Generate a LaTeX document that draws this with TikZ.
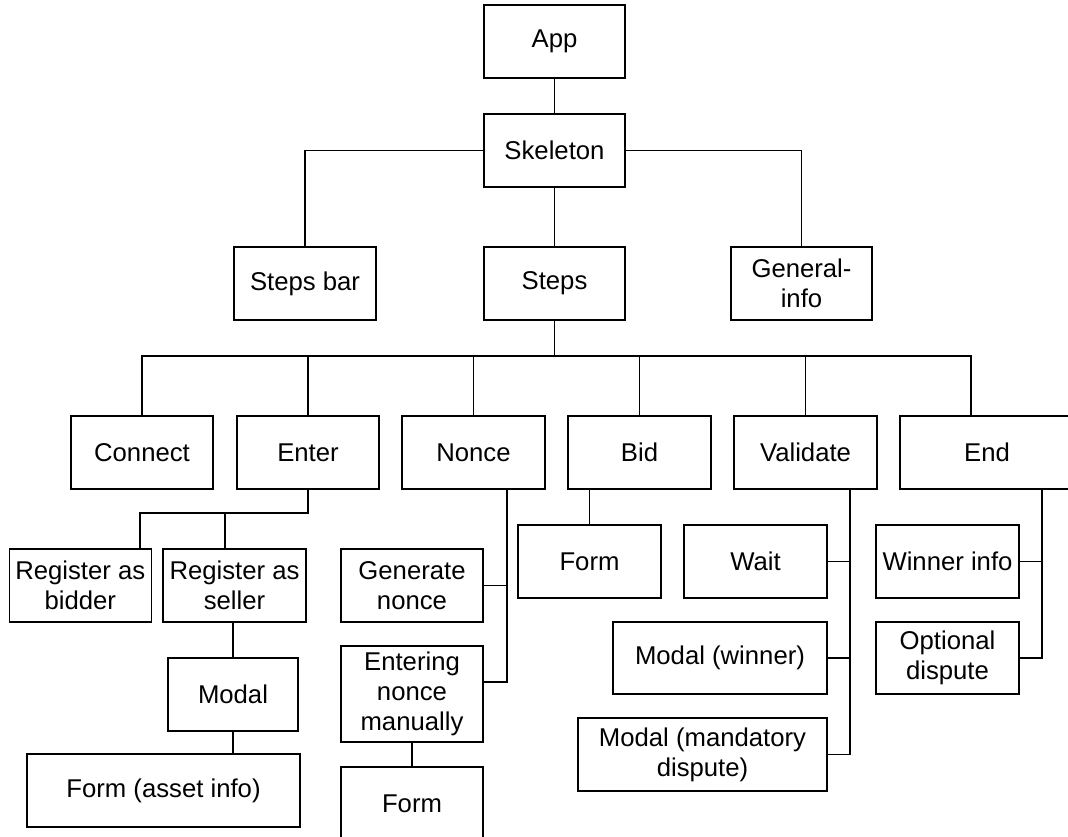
\documentclass[tikz,border=0pt]{standalone}
\usepackage{fontspec}
\setmainfont{Liberation Sans}
\begin{document}
\begin{tikzpicture}[x=1pt,y=-1pt,
  box/.style={draw, line width=1.1pt, fill=white, inner sep=0pt, align=center,
    minimum width=142pt, minimum height=73pt,
    font=\fontsize{25.7}{30}\selectfont},
  link/.style={line width=1.1pt}]
\clip (0,0) rectangle (1068,837);

% top levels
\node[box, minimum width=141pt] (app)  at (554.5,41.5)  {App};
\node[box, minimum width=141pt] (skel) at (554.5,150.5) {Skeleton};
\node[box] (stepsbar) at (305,283.5)   {Steps bar};
\node[box, minimum width=141pt] (steps) at (554.5,283.5) {Steps};
\node[box, minimum width=141pt] (geninfo) at (801.5,283.5) {General-\\info};

% step pages
\node[box] (connect)  at (142,452.5)   {Connect};
\node[box] (enter)    at (308,452.5)   {Enter};
\node[box, minimum width=143pt] (nonce) at (473.5,452.5) {Nonce};
\node[box, minimum width=143pt] (bid)   at (639.5,452.5) {Bid};
\node[box, minimum width=143pt] (validate) at (805.5,452.5) {Validate};
\node[box, minimum width=174pt] (end) at (987,452.5) {End};

% enter
\node[box, minimum width=142.5pt] (regbid) at (80.3,585.5) {Register as\\bidder};
\node[box, minimum width=143pt] (regsell) at (234.5,585.5) {Register as\\seller};
\node[box, minimum width=130pt] (modal) at (233,694.5) {Modal};
\node[box, minimum width=273pt] (formasset) at (163.5,790.5) {Form (asset info)};

% nonce
\node[box] (gennonce) at (412,585.5) {Generate\\nonce};
\node[box, minimum height=96pt] (entering) at (412,694) {Entering\\nonce\\manually};
\node[box] (formn) at (412,803.5) {Form};

% bid
\node[box, minimum width=143pt] (bidform) at (589.5,561.5) {Form};

% validate
\node[box, minimum width=143pt] (wait) at (755.5,561.5) {Wait};
\node[box, minimum width=214pt, minimum height=72pt] (modalw) at (720,658) {Modal (winner)};
\node[box, minimum width=249pt] (modalmd) at (702.5,754.5) {Modal (mandatory\\dispute)};

% end
\node[box, minimum width=143pt] (winner) at (947.5,561.5) {Winner info};
\node[box, minimum width=143pt, minimum height=72pt] (optdisp) at (947.5,658) {Optional\\dispute};

% junction points
\coordinate (bus) at (554.5,356);
\coordinate (endtop) at (971,416);
\coordinate (eb) at (308,513);
\coordinate (ebl) at (140,513);
\coordinate (ebr) at (225,513);
\coordinate (nv) at (507,489);
\coordinate (ne) at (483,682);
\coordinate (vv) at (850,489);
\coordinate (ev) at (1042,489);

% connectors
\draw[link] (app.south) -- (skel.north);
\draw[link] (skel.west) -| (stepsbar.north);
\draw[link] (skel.east) -| (geninfo.north);
\draw[link] (skel.south) -- (steps.north);

\draw[link] (steps.south) -- (bus);
\draw[link] (connect.north) |- (bus);
\draw[link] (enter.north) |- (bus);
\draw[link] (nonce.north) |- (bus);
\draw[link] (bid.north) |- (bus);
\draw[link] (validate.north) |- (bus);
\draw[link] (endtop) |- (bus);

\draw[link] (enter.south) -- (eb) -- (ebl) -- (ebl |- regbid.north);
\draw[link] (ebr) -- (ebr |- regsell.north);
\draw[link] (modal.north) -- (modal.north |- regsell.south);
\draw[link] (modal.south) -- (modal.south |- formasset.north);

\draw[link] (nv) |- (gennonce.east);
\draw[link] (nv) |- (ne);
\draw[link] (entering.south) -- (formn.north);

\draw[link] (bidform.north) -- (bidform.north |- bid.south);

\draw[link] (vv) |- (wait.east);
\draw[link] (vv) |- (modalw.east);
\draw[link] (vv) |- (modalmd.east);

\draw[link] (ev) |- (winner.east);
\draw[link] (ev) |- (optdisp.east);
\end{tikzpicture}
\end{document}
